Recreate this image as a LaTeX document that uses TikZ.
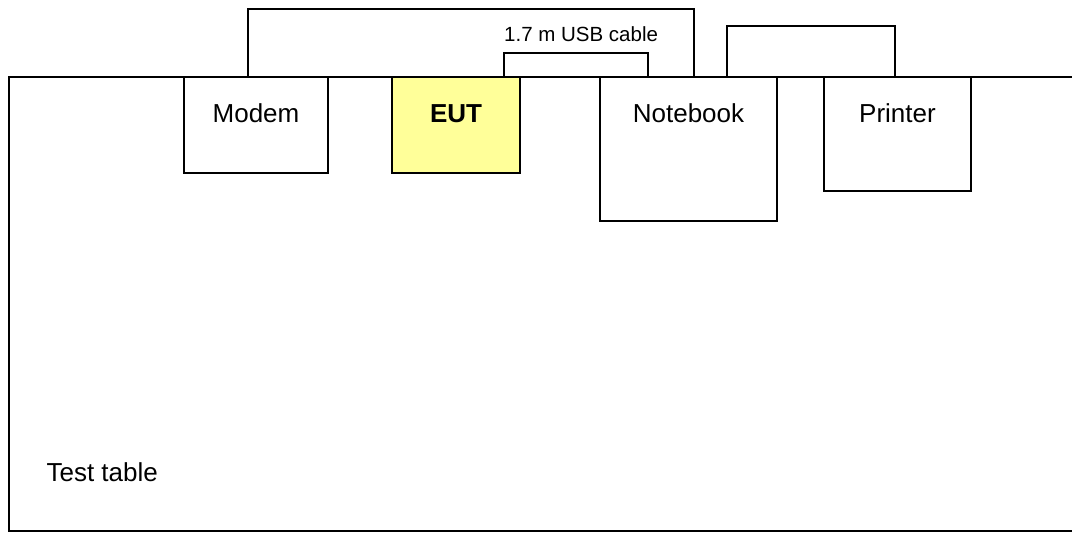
\documentclass[tikz,border=0pt]{standalone}
\usepackage{fontspec}
\setmainfont{Liberation Sans}
\usetikzlibrary{calc}
\definecolor{eutyellow}{HTML}{FFFF99}

\begin{document}
\begin{tikzpicture}[x=1pt,y=-1pt,
  device/.style={draw,line width=1.8pt,inner sep=0pt,outer sep=0pt,text height=45pt,
    font=\fontsize{26}{30}\selectfont,anchor=north west},
  cable/.style={line width=1.8pt}]

\useasboundingbox (0,0) rectangle (1072,533);

%Drawing the test table
\draw[line width=2pt] (1072,77)--(9,77)--(9,531)--(1072,531);
\node[anchor=base west,font=\fontsize{26}{30}\selectfont] (table) at (43,481) {Test table};

%Drawing devices
\node[device,minimum width=144pt,text depth=51pt] (modem) at (184,77) {Modem};
\node[device,minimum width=128pt,text depth=51pt,fill=eutyellow,font=\fontsize{26}{30}\selectfont\bfseries] (eut) at (392,77) {EUT};
\node[device,minimum width=177pt,text depth=99pt] (notebook) at (600,77) {Notebook};
\node[device,minimum width=147pt,text depth=69pt] (printer) at (824,77) {Printer};

%connecting them
\draw[cable] ([xshift=64pt]modem.north west) -- ++(0,-68) -| ([xshift=94pt]notebook.north west);
\draw[cable] ([xshift=112pt]eut.north west) -- ++(0,-24) -| ([xshift=48pt]notebook.north west);
\draw[cable] ([xshift=127pt]notebook.north west) -- ++(0,-51) -| ([xshift=71pt]printer.north west);

%cable label
\node[anchor=base west,inner sep=0pt,font=\fontsize{20.5}{24}\selectfont] (usb) at (504,41) {1.7 m USB cable};

\end{tikzpicture}
\end{document}
